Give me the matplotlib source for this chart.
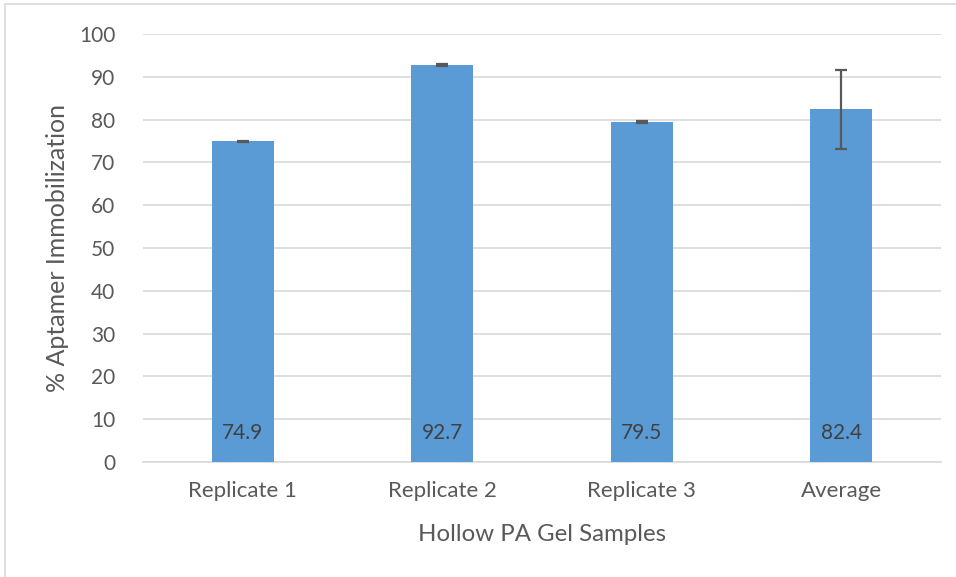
import matplotlib
matplotlib.use("Agg")
import matplotlib.pyplot as plt
from matplotlib.patches import Rectangle

categories = ["Replicate 1", "Replicate 2", "Replicate 3", "Average"]
values = [74.9, 92.7, 79.5, 82.4]
errors = [0.2, 0.2, 0.2, 9.2]
yticks = [0, 10, 20, 30, 40, 50, 60, 70, 80, 90, 100]

plt.rcParams['font.family'] = ['Lato', 'DejaVu Sans']
txt = '#595959'

fig = plt.figure(figsize=(9.56, 5.77), dpi=100)
ax = fig.add_axes([143/956, 1-462/577, 798/956, 428/577])

x = range(len(categories))
ax.bar(x, values, width=0.31, color='#5B9BD5', zorder=3,
       yerr=errors, error_kw=dict(ecolor='#595959', elinewidth=1.6, capsize=4.5, capthick=1.6, zorder=4))
for i, v in zip(x, values):
    ax.text(i, 6.8, f"{v}", ha='center', va='center', fontsize=15, color='#404040', zorder=5)

ax.set_xlim(-0.5, len(categories) - 0.5)
ax.set_ylim(0, 100)
ax.set_yticks(yticks)
ax.set_xticks(list(x))
ax.set_xticklabels(categories)
ax.yaxis.grid(True, color='#D9D9D9', linewidth=1.2, zorder=0)
ax.set_axisbelow(True)
for s in ['top', 'right', 'left']:
    ax.spines[s].set_visible(False)
ax.spines['bottom'].set_color('#D9D9D9')
ax.spines['bottom'].set_linewidth(1.2)
ax.tick_params(axis='both', length=0, colors=txt)
ax.tick_params(axis='x', pad=14, labelsize=16)
ax.tick_params(axis='y', pad=20, labelsize=15)
ax.set_xlabel("Hollow PA Gel Samples", fontsize=17.3, color=txt, labelpad=16)
ax.set_ylabel("% Aptamer Immobilization", fontsize=18, color=txt, labelpad=7)

fig.patches.append(Rectangle((5/956, -0.1), 1.2, 1.1 - 4/577, transform=fig.transFigure,
                             fill=False, edgecolor='#D9D9D9', linewidth=1.2))

fig.savefig("out.png", dpi=100)
